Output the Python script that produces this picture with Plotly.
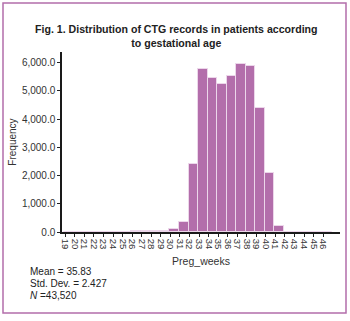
import plotly.graph_objects as go

weeks = list(range(19, 47))
freq_map = {24: 5, 25: 10, 26: 25, 27: 40, 28: 40, 29: 35, 30: 100, 31: 365,
            32: 2420, 33: 5780, 34: 5450, 35: 5260, 36: 5530, 37: 5950,
            38: 5890, 39: 4410, 40: 2080, 41: 210}
frequency = [freq_map.get(w, 0) for w in weeks]
y_ticks = [0, 1000, 2000, 3000, 4000, 5000, 6000]
title_text = "Fig. 1. Distribution of CTG records in patients according<br>to gestational age"
stats_lines = ["Mean = 35.83", "Std. Dev. = 2.427", "<i>N</i> =43,520"]

W, H = 350, 321
L, R, T, B = 62, 10, 52, 89
pw, ph = W - L - R, H - T - B

def px(x):
    return (x - L) / pw

def py(y):
    return (H - B - y) / ph

fig = go.Figure()
fig.add_trace(go.Bar(
    x=weeks, y=frequency, width=1, offset=-0.1,
    marker=dict(color="#b36eab", line=dict(color="#ecd6ea", width=1)),
))

fig.update_layout(
    width=W, height=H,
    margin=dict(l=L, r=R, t=T, b=B),
    paper_bgcolor="white", plot_bgcolor="white",
    font=dict(family="Liberation Sans, Arial, sans-serif", color="#222", size=9),
    showlegend=False,
    bargap=0,
    xaxis=dict(
        range=[18.65, 47.76], tickmode="array", tickvals=weeks,
        ticktext=[str(w) for w in weeks], tickangle=90,
        ticks="outside", ticklen=3, tickcolor="#222", tickwidth=1,
        showline=True, linecolor="#1a1a1a", linewidth=1.5,
        showgrid=False, zeroline=False,
        tickfont=dict(size=9.5, color="#333"),
        title=dict(text="Preg_weeks", font=dict(size=10.5, color="#333"), standoff=9),
    ),
    yaxis=dict(
        range=[0, 6380], tickmode="array", tickvals=y_ticks,
        ticktext=[f"{v:,.1f}" for v in y_ticks],
        ticks="outside", ticklen=3, tickcolor="#222", tickwidth=1,
        showline=True, linecolor="#1a1a1a", linewidth=1.5,
        showgrid=False, zeroline=False,
        tickfont=dict(size=10, color="#333"),
        title=dict(text="Frequency", font=dict(size=10, color="#333"), standoff=3),
    ),
)

fig.add_annotation(
    text="<b>" + title_text + "</b>", xref="paper", yref="paper",
    x=px(176), y=py(36), xanchor="center", yanchor="middle",
    showarrow=False, font=dict(size=10.6, color="#222"), align="center",
)

for i, line in enumerate(stats_lines):
    fig.add_annotation(
        text=line, xref="paper", yref="paper",
        x=px(28), y=py(271 + i * 12), xanchor="left", yanchor="middle",
        showarrow=False, font=dict(size=10, color="#222"), align="left",
    )

fig.add_shape(
    type="rect", xref="paper", yref="paper",
    x0=px(3), x1=px(346), y0=py(313), y1=py(3),
    line=dict(color="#b36eab", width=1.5), layer="below",
)

fig.write_html("out.html")
